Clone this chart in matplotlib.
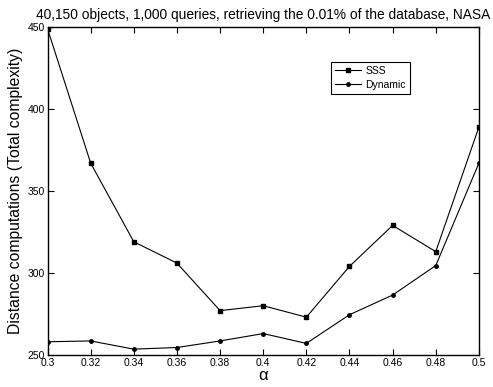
import matplotlib
matplotlib.use('Agg')
import matplotlib.pyplot as plt

alpha = [0.30, 0.32, 0.34, 0.36, 0.38, 0.40, 0.42, 0.44, 0.46, 0.48, 0.50]
sss = [449, 367, 319, 306, 277, 280, 273, 304, 329, 313, 389]
dynamic = [258, 258.5, 253.5, 254.5, 258.5, 263, 257, 274.5, 286.5, 304.5, 367]

xticks = [0.3, 0.32, 0.34, 0.36, 0.38, 0.4, 0.42, 0.44, 0.46, 0.48, 0.5]
xticklabels = ['0.3', '0.32', '0.34', '0.36', '0.38', '0.4', '0.42', '0.44', '0.46', '0.48', '0.5']
yticks = [250, 300, 350, 400, 450]

plt.rcParams['font.family'] = ['Liberation Sans', 'DejaVu Sans']

fig = plt.figure(figsize=(4.93, 3.87), dpi=100)
ax = fig.add_axes([0.0964, 0.083, 0.875, 0.847])

ax.plot(alpha, sss, color='black', lw=0.8, marker='s', ms=3.5, label='SSS')
ax.plot(alpha, dynamic, color='black', lw=0.8, marker='o', ms=2.5, label='Dynamic')

ax.set_xlim(0.3, 0.5)
ax.set_ylim(250, 450)
ax.set_xticks(xticks)
ax.set_xticklabels(xticklabels)
ax.set_yticks(yticks)
ax.tick_params(direction='in', top=True, right=True, labelsize=7.5, length=4, width=0.8, pad=2)
for s in ax.spines.values():
    s.set_linewidth(1.0)

ax.set_xlabel('\u03b1', fontsize=12, labelpad=0)
ax.set_ylabel('Distance computations (Total complexity)', fontsize=11.3, labelpad=3)
ax.set_title('40,150 objects, 1,000 queries, retrieving the 0.01% of the database, NASA',
             fontsize=9.9, pad=6)

leg = ax.legend(loc='upper left', bbox_to_anchor=(0.645, 0.91), fontsize=7.5,
                frameon=True, fancybox=False, edgecolor='black', framealpha=1,
                handlelength=2.5, borderpad=0.4, labelspacing=0.35, handletextpad=0.4)
leg.get_frame().set_linewidth(0.8)

fig.savefig('out.png', dpi=100)
